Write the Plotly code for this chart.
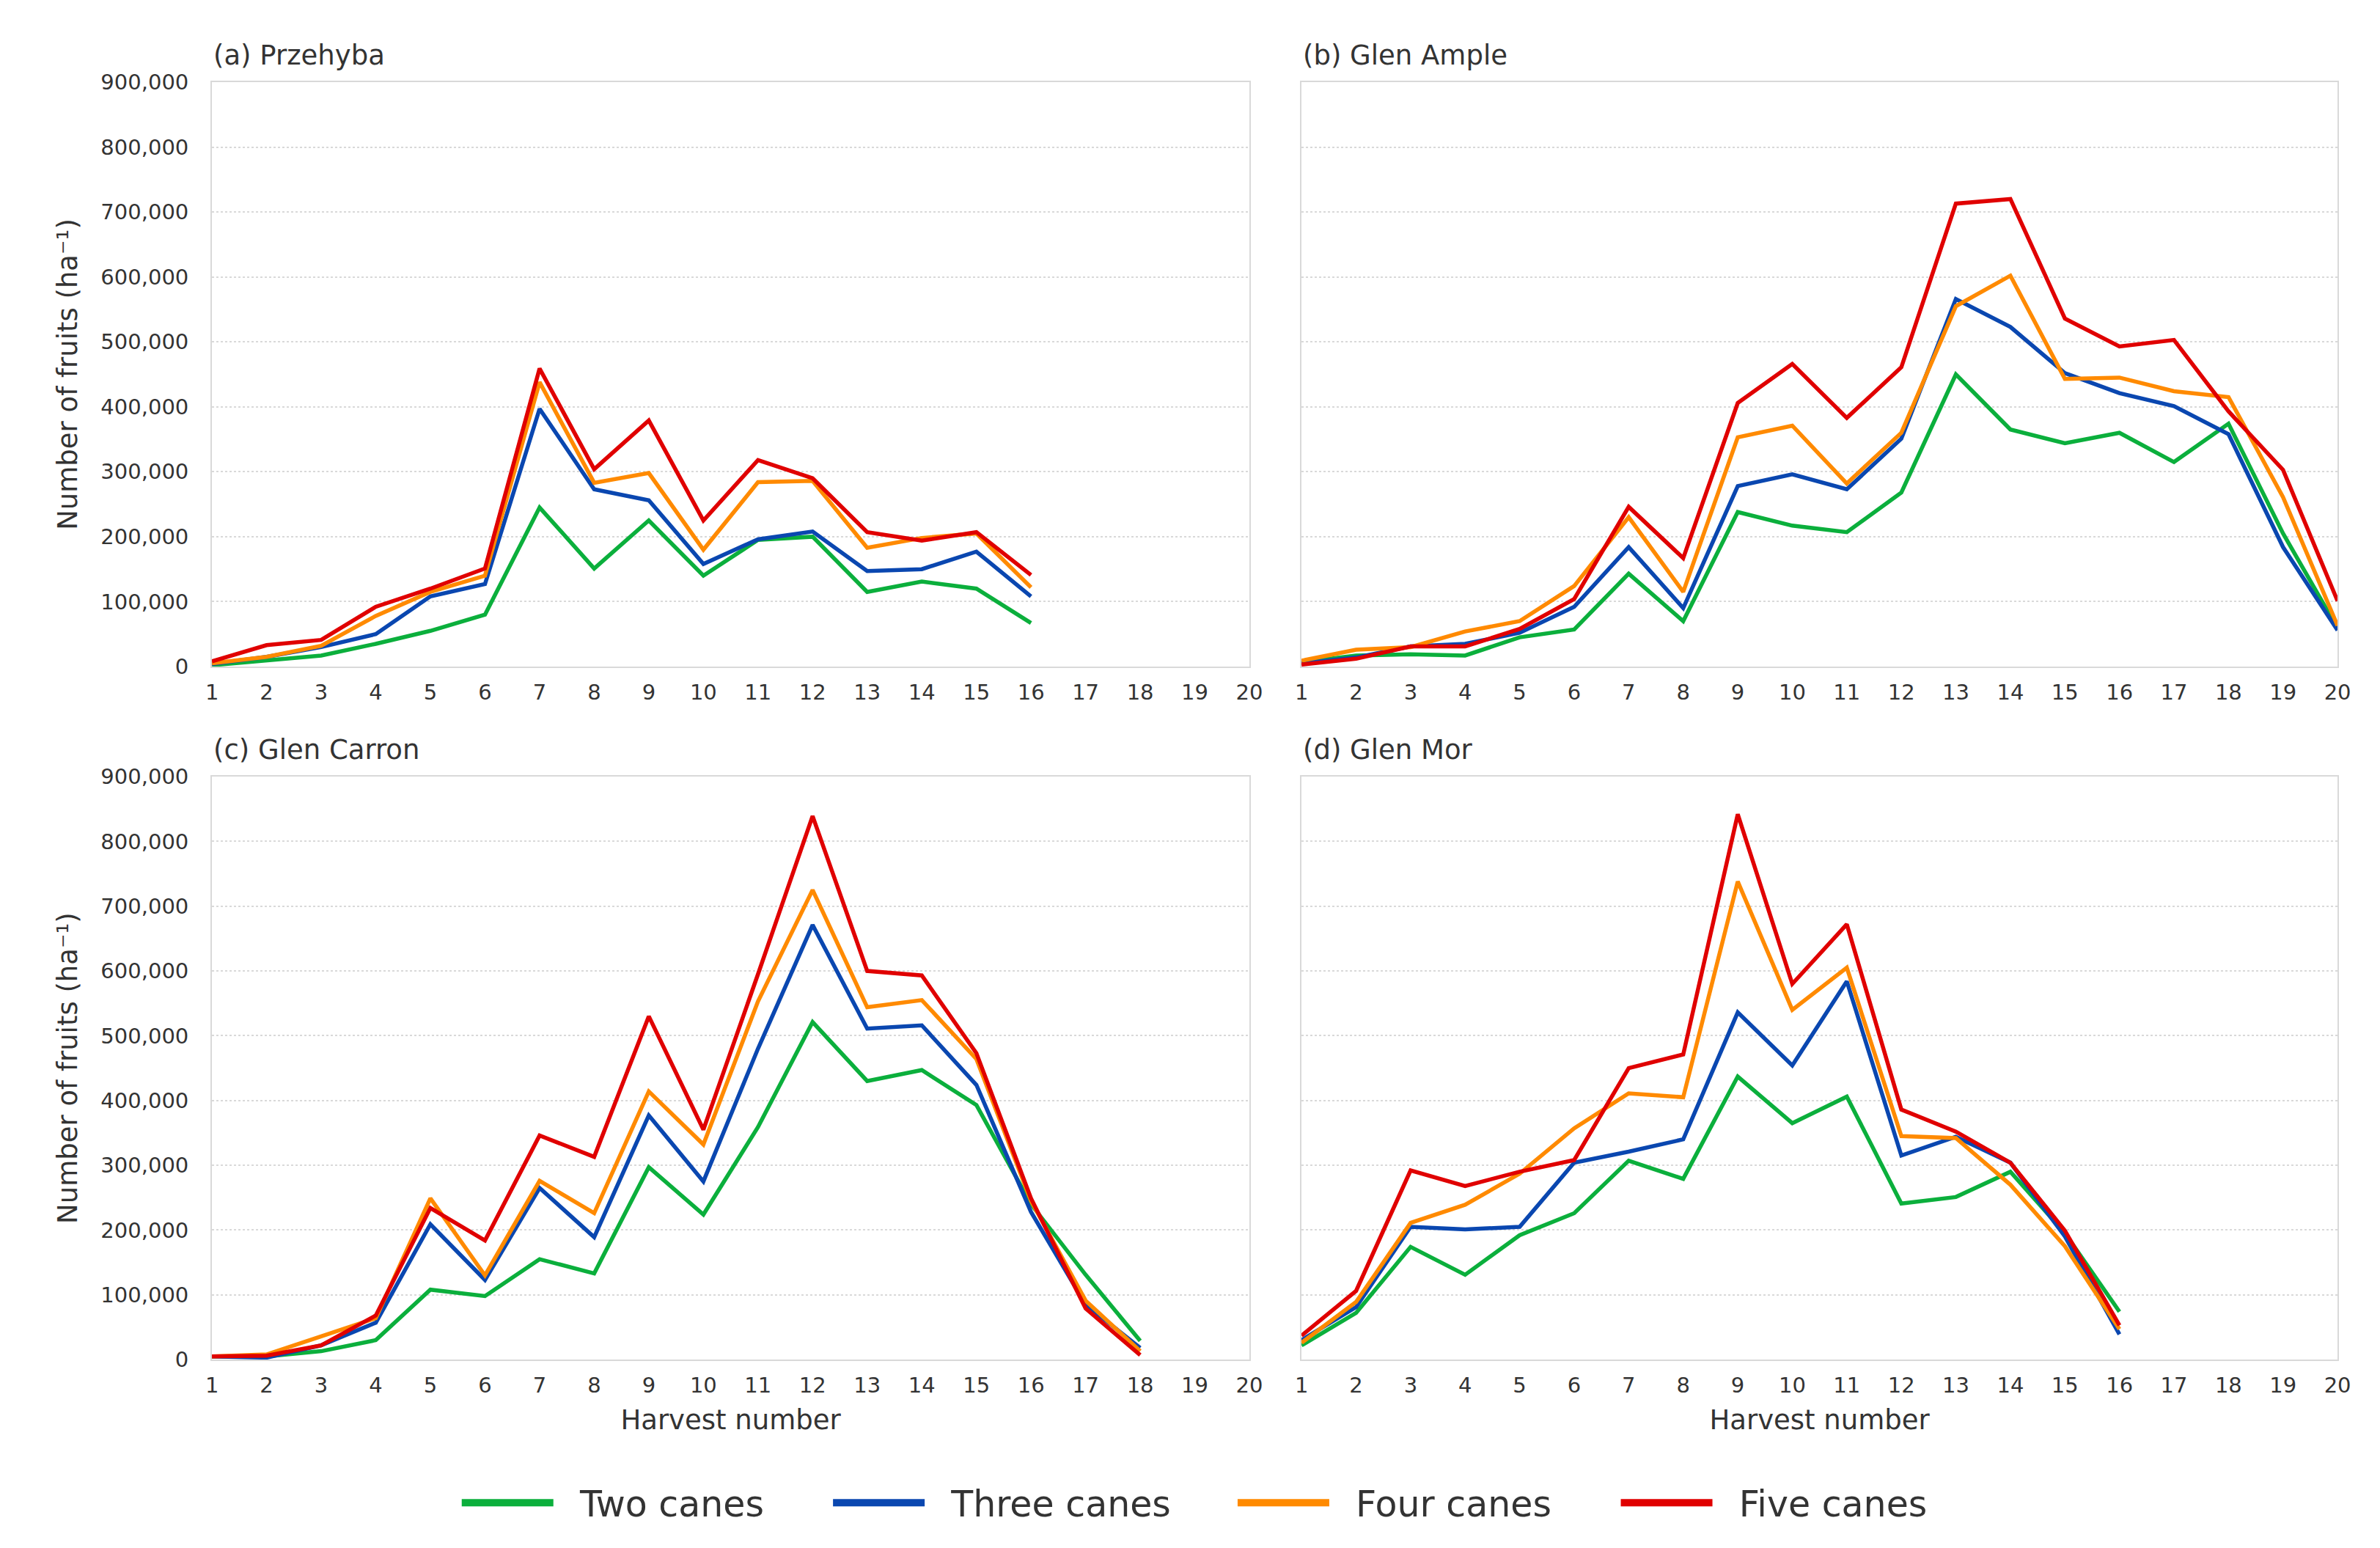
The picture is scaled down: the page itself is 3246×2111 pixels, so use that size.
import plotly.graph_objects as go
from plotly.subplots import make_subplots

# Harvest numbers (x axis)
harvest = list(range(1, 21))

series_names = ["Two canes", "Three canes", "Four canes", "Five canes"]
series_colors = ["#0BAF3C", "#0A47B0", "#FF8A00", "#E00000"]

# (a) Przehyba - 16 harvests
przehyba_two = [2000, 10000, 17000, 35000, 55000, 80000, 245000, 151000, 225000, 140000,
                195000, 200000, 115000, 131000, 120000, 67000]
przehyba_three = [4000, 15000, 30000, 50000, 108000, 127000, 397000, 273000, 256000, 158000,
                  196000, 208000, 147000, 150000, 177000, 108000]
przehyba_four = [5000, 15000, 32000, 78000, 115000, 140000, 438000, 283000, 298000, 180000,
                 284000, 286000, 183000, 198000, 205000, 122000]
przehyba_five = [8000, 33000, 41000, 92000, 120000, 151000, 459000, 304000, 379000, 225000,
                 318000, 290000, 207000, 194000, 207000, 141000]

# (b) Glen Ample - 20 harvests
ample_two = [7000, 17000, 19000, 17000, 45000, 57000, 143000, 70000, 238000, 217000,
             207000, 268000, 450000, 365000, 344000, 360000, 315000, 374000, 205000, 59000]
ample_three = [5000, 14000, 31000, 35000, 52000, 92000, 184000, 90000, 278000, 296000,
               273000, 351000, 566000, 523000, 452000, 421000, 401000, 358000, 184000, 56000]
ample_four = [9000, 26000, 30000, 54000, 70000, 124000, 230000, 115000, 353000, 371000,
              282000, 360000, 555000, 602000, 443000, 445000, 424000, 415000, 261000, 63000]
ample_five = [3000, 12000, 31000, 31000, 58000, 104000, 246000, 167000, 406000, 466000,
              383000, 461000, 713000, 720000, 536000, 493000, 503000, 393000, 303000, 101000]

# (c) Glen Carron - 18 harvests
carron_two = [5000, 5000, 13000, 30000, 108000, 98000, 155000, 133000, 297000, 224000,
              359000, 521000, 430000, 447000, 393000, 240000, 131000, 29000]
carron_three = [5000, 3000, 22000, 57000, 209000, 123000, 265000, 189000, 377000, 275000,
                480000, 671000, 511000, 516000, 424000, 228000, 85000, 18000]
carron_four = [5000, 8000, 36000, 64000, 249000, 130000, 276000, 226000, 414000, 332000,
               553000, 725000, 544000, 555000, 464000, 245000, 91000, 13000]
carron_five = [5000, 6000, 22000, 68000, 234000, 184000, 346000, 313000, 530000, 355000,
               595000, 839000, 600000, 593000, 473000, 249000, 79000, 7000]

# (d) Glen Mor - 16 harvests
mor_two = [22000, 72000, 174000, 131000, 192000, 226000, 307000, 279000, 437000, 365000,
           406000, 241000, 251000, 290000, 195000, 74000]
mor_three = [30000, 81000, 205000, 201000, 205000, 304000, 321000, 340000, 536000, 454000,
             584000, 315000, 344000, 304000, 190000, 39000]
mor_four = [26000, 89000, 211000, 239000, 287000, 357000, 411000, 405000, 738000, 540000,
            605000, 345000, 342000, 270000, 175000, 47000]
mor_five = [37000, 106000, 292000, 268000, 290000, 308000, 450000, 471000, 842000, 580000,
            672000, 386000, 352000, 304000, 199000, 53000]

panel_titles = ["(a) Przehyba", "(b) Glen Ample", "(c) Glen Carron", "(d) Glen Mor"]
panels = [
    [przehyba_two, przehyba_three, przehyba_four, przehyba_five],
    [ample_two, ample_three, ample_four, ample_five],
    [carron_two, carron_three, carron_four, carron_five],
    [mor_two, mor_three, mor_four, mor_five],
]

FONT = "DejaVu Sans"
TXT = "#333333"
tick_font = dict(family=FONT, size=29, color=TXT)

fig = make_subplots(rows=2, cols=2, horizontal_spacing=0.02, vertical_spacing=0.07)

for p, data in enumerate(panels):
    row, col = p // 2 + 1, p % 2 + 1
    for s, values in enumerate(data):
        fig.add_trace(go.Scatter(
            x=harvest[:len(values)], y=values, mode="lines",
            name=series_names[s], showlegend=False,
            line=dict(color=series_colors[s], width=5.5),
        ), row=row, col=col)

# legend-only entries (thick swatches), one legend per entry
legend_ids = ["legend", "legend2", "legend3", "legend4"]
for s, name in enumerate(series_names):
    fig.add_trace(go.Scatter(
        x=[None], y=[None], mode="lines", name="\u00a0\u00a0" + name,
        legend=legend_ids[s], showlegend=True,
        line=dict(color=series_colors[s], width=20),
    ), row=1, col=1)

# panel domains
x_doms = [[0.0866, 0.5225], [0.5444, 0.9797]]
y_doms = [[0.5732, 0.9507], [0.1255, 0.5021]]

for p in range(4):
    row, col = p // 2 + 1, p % 2 + 1
    fig.update_xaxes(
        domain=x_doms[col - 1], range=[1, 20], dtick=1, tick0=1,
        showgrid=False, showline=True, linecolor="#d9d9d9", linewidth=2, mirror=True,
        ticks="", tickfont=tick_font, zeroline=False, automargin=False,
        ticklabelstandoff=8,
        title=dict(text="Harvest number" if row == 2 else "",
                   font=dict(family=FONT, size=37, color=TXT), standoff=18),
        row=row, col=col)
    fig.update_yaxes(
        domain=y_doms[row - 1], range=[0, 900000], dtick=100000,
        tickformat=",d", showticklabels=(col == 1),
        showgrid=True, gridcolor="#d9d9d9", griddash="dot", gridwidth=2,
        showline=True, linecolor="#d9d9d9", linewidth=2, mirror=True,
        ticks="", tickfont=tick_font, zeroline=False, automargin=False,
        ticklabelstandoff=24,
        title=dict(text="Number of fruits (ha\u207b\u00b9)" if col == 1 else "",
                   font=dict(family=FONT, size=37, color=TXT), standoff=20),
        row=row, col=col)
    fig.add_annotation(
        text=panel_titles[p], xref="paper", yref="paper",
        x=x_doms[col - 1][0], y=y_doms[row - 1][1], xanchor="left", yanchor="bottom",
        yshift=13, showarrow=False,
        font=dict(family=FONT, size=37, color=TXT))

legend_x = [0.190, 0.346, 0.516, 0.677]
legend_style = dict(
    orientation="h", y=0.033, xanchor="left", yanchor="middle",
    font=dict(family=FONT, size=49, color=TXT), itemwidth=125,
    bgcolor="rgba(0,0,0,0)",
)
fig.update_layout(
    width=3246, height=2111,
    paper_bgcolor="white", plot_bgcolor="white",
    margin=dict(l=0, r=0, t=0, b=0),
    legend=dict(x=legend_x[0], **legend_style),
    legend2=dict(x=legend_x[1], **legend_style),
    legend3=dict(x=legend_x[2], **legend_style),
    legend4=dict(x=legend_x[3], **legend_style),
)

fig.write_html("out.html")
